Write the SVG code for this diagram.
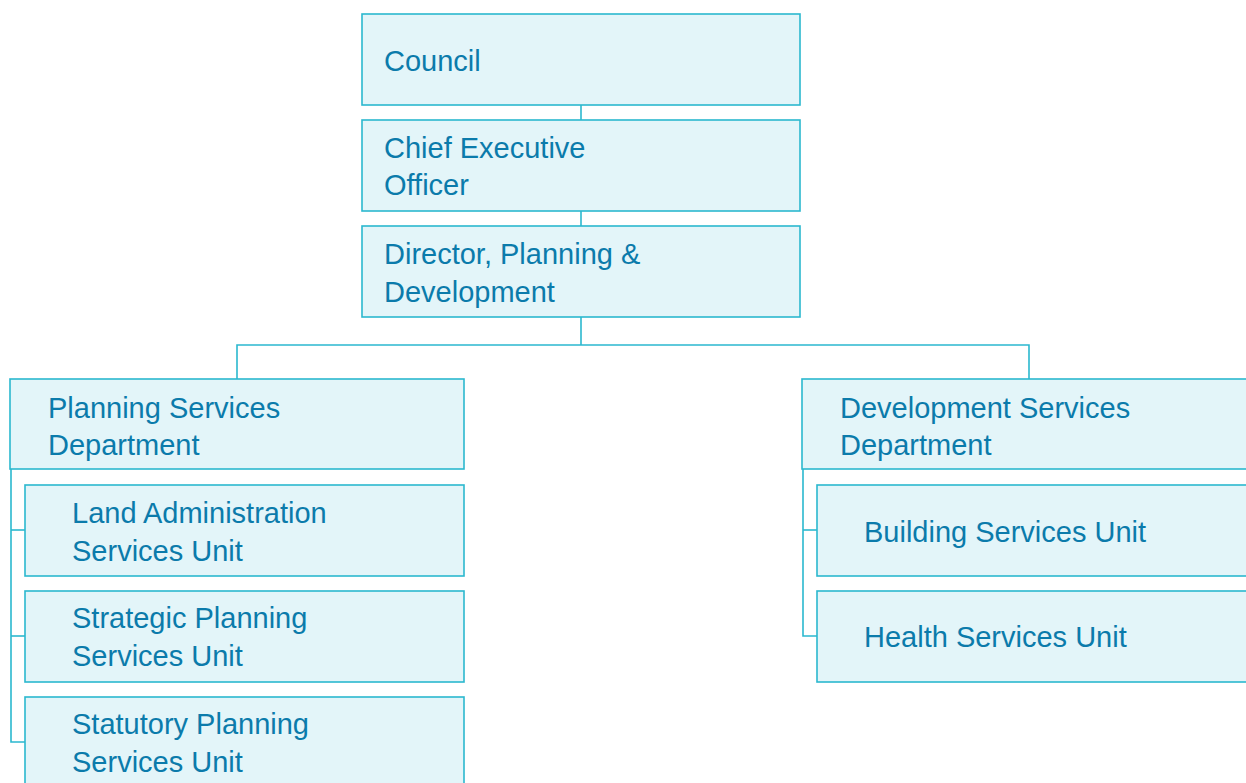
<svg xmlns="http://www.w3.org/2000/svg" width="1246" height="783" viewBox="0 0 1246 783">
<style>
.box{fill:#e3f5f9;stroke:#2bb8cf;stroke-width:1.6}
.t{font-family:"Liberation Sans",Arial,sans-serif;font-size:29px;fill:#0b7bab}
.c{fill:none;stroke:#2bb8cf;stroke-width:1.6}
</style>
<rect width="1246" height="783" fill="#ffffff"/>
<g id="connectors">
<line class="c" x1="581" y1="105" x2="581" y2="120"/>
<line class="c" x1="581" y1="211" x2="581" y2="226"/>
<line class="c" x1="581" y1="317" x2="581" y2="345"/>
<polyline class="c" points="237,379 237,345 1029,345 1029,379"/>
<polyline class="c" points="11,469 11,742 25,742"/>
<line class="c" x1="11" y1="530" x2="25" y2="530"/>
<line class="c" x1="11" y1="636" x2="25" y2="636"/>
<polyline class="c" points="803,469 803,636 817,636"/>
<line class="c" x1="803" y1="530" x2="817" y2="530"/>
</g>
<g id="council"><rect class="box" x="362" y="14" width="438" height="91"/><text class="t" x="384" y="71">Council</text></g>
<g id="ceo"><rect class="box" x="362" y="120" width="438" height="91"/><text class="t" x="384" y="158">Chief Executive</text><text class="t" x="384" y="195">Officer</text></g>
<g id="director"><rect class="box" x="362" y="226" width="438" height="91"/><text class="t" x="384" y="264">Director, Planning &amp;</text><text class="t" x="384" y="302">Development</text></g>
<g id="planning-dept"><rect class="box" x="10" y="379" width="454" height="90"/><text class="t" x="48" y="418">Planning Services</text><text class="t" x="48" y="455">Department</text></g>
<g id="land-admin"><rect class="box" x="25" y="485" width="439" height="91"/><text class="t" x="72" y="523">Land Administration</text><text class="t" x="72" y="561">Services Unit</text></g>
<g id="strategic"><rect class="box" x="25" y="591" width="439" height="91"/><text class="t" x="72" y="628">Strategic Planning</text><text class="t" x="72" y="666">Services Unit</text></g>
<g id="statutory"><rect class="box" x="25" y="697" width="439" height="100"/><text class="t" x="72" y="734">Statutory Planning</text><text class="t" x="72" y="772">Services Unit</text></g>
<g id="development-dept"><rect class="box" x="802" y="379" width="460" height="90"/><text class="t" x="840" y="418">Development Services</text><text class="t" x="840" y="455">Department</text></g>
<g id="building"><rect class="box" x="817" y="485" width="445" height="91"/><text class="t" x="864" y="542">Building Services Unit</text></g>
<g id="health"><rect class="box" x="817" y="591" width="445" height="91"/><text class="t" x="864" y="647">Health Services Unit</text></g>
</svg>
